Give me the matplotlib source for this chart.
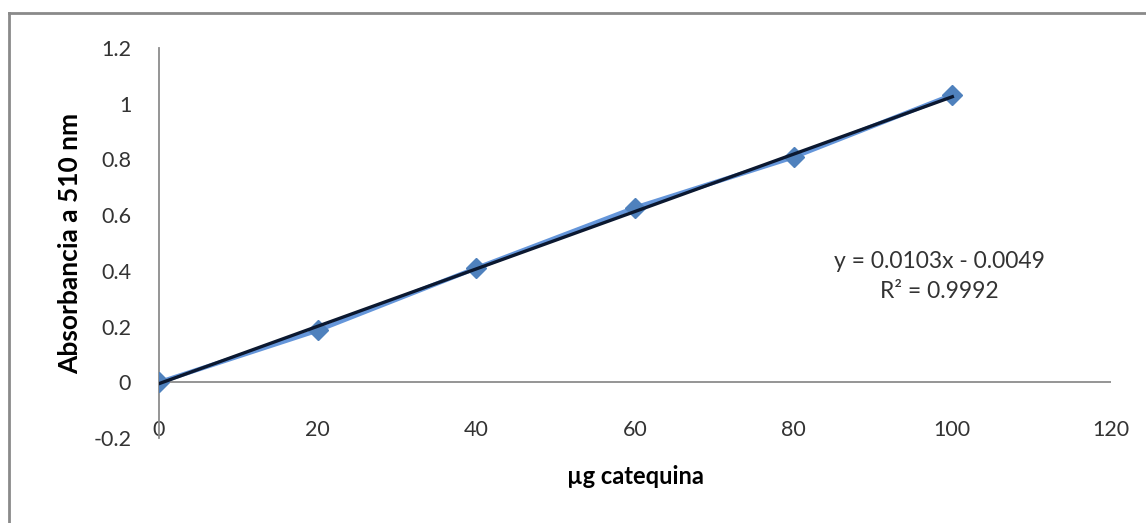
import matplotlib
matplotlib.use("Agg")
import matplotlib.pyplot as plt
from matplotlib.lines import Line2D

x_vals = [0, 20, 40, 60, 80, 100]
absorb = [0.0, 0.186, 0.41, 0.627, 0.808, 1.032]
slope = 0.0103
intercept = -0.0049
x_ticks = [0, 20, 40, 60, 80, 100, 120]
y_ticks = [-0.2, 0, 0.2, 0.4, 0.6, 0.8, 1, 1.2]
y_tick_labels = ["-0.2", "0", "0.2", "0.4", "0.6", "0.8", "1", "1.2"]
eq_text = "y = 0.0103x - 0.0049\nR² = 0.9992"

plt.rcParams['font.family'] = ['Lato', 'DejaVu Sans']

W, H = 1146, 523
fig = plt.figure(figsize=(W / 100, H / 100), dpi=100)
ax = fig.add_axes([159 / W, 1 - 438 / H, (1111 - 159) / W, (438 - 48) / H])

ax.plot(x_vals, absorb, color="#6596DA", lw=3.2, marker="D", ms=10.5,
        mfc="#4F81BD", mec="#4F81BD", zorder=3)
tx = [x_vals[0], x_vals[-1]]
ty = [slope * v + intercept for v in tx]
ax.plot(tx, ty, color="#0b1830", lw=2.4, zorder=4)

ax.set_xlim(0, 120)
ax.set_ylim(-0.2, 1.2)
ax.axhline(0, color="#8c8c8c", lw=1.3, zorder=1)

for s in ["top", "right", "bottom"]:
    ax.spines[s].set_visible(False)
ax.spines["left"].set_color("#8c8c8c")
ax.spines["left"].set_linewidth(1.3)

ax.set_xticks(x_ticks)
ax.set_xticklabels([str(v) for v in x_ticks])
ax.set_yticks(y_ticks)
ax.set_yticklabels(y_tick_labels)
ax.tick_params(axis="x", length=0, pad=-6, labelsize=15.5, colors="#333333")
ax.tick_params(axis="y", length=0, pad=20, labelsize=15.5, colors="#333333")
for lbl in ax.get_xticklabels():
    lbl.set_verticalalignment("center")

ax.set_xlabel("µg catequina", fontsize=17, fontweight="bold", labelpad=18)
ax.set_ylabel("Absorbancia a 510 nm", fontsize=19, fontweight="bold", labelpad=8)

ax.text(98.4, 0.38, eq_text, ha="center", va="center", fontsize=16.5,
        color="#333333", linespacing=1.55)

fig.add_artist(Line2D([9 / W, 9 / W], [0, 1 - 13 / H], transform=fig.transFigure,
                      color="#8a8a8a", lw=2))
fig.add_artist(Line2D([9 / W, 1], [1 - 13 / H, 1 - 13 / H], transform=fig.transFigure,
                      color="#8a8a8a", lw=2))

fig.savefig("out.png", dpi=100)
